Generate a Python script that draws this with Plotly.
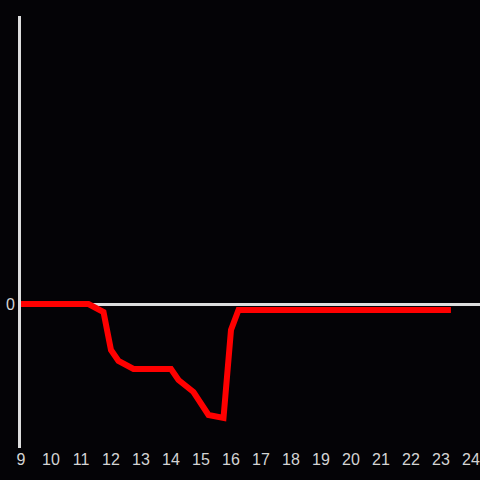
import plotly.graph_objects as go

hours = [9.0, 11.25, 11.75, 12.0, 12.25, 12.75, 14.0, 14.25, 14.75, 15.25, 15.75, 16.0, 16.25, 23.33]
values = [0, 0, -8, -46, -57, -65, -65, -76, -88, -111, -114, -26, -6, -6]
x_ticks = list(range(9, 25))
y_ticks = [0]

fig = go.Figure()
fig.add_trace(go.Scatter(x=hours, y=values, mode="lines",
                         line=dict(color="#ff0000", width=6), hoverinfo="skip"))
fig.update_layout(
    width=480, height=480,
    paper_bgcolor="#040306", plot_bgcolor="#040306",
    margin=dict(l=21, r=0, t=16, b=32),
    showlegend=False,
    font=dict(family="Liberation Sans, Arial, sans-serif", size=16, color="#d4d4d4"),
    xaxis=dict(range=[9, 24.3], tickvals=x_ticks, ticktext=[str(t) for t in x_ticks],
               showgrid=False, zeroline=False, showline=False, ticks="", ticklen=0),
    yaxis=dict(range=[-144, 288], tickvals=y_ticks, ticktext=["0"], showgrid=False,
               zeroline=True, zerolinecolor="#dddddd", zerolinewidth=3,
               showline=True, linecolor="#dddddd", linewidth=3, ticks="", ticklen=0),
)
fig.write_html("out.html", config={"displayModeBar": False},
               post_script="document.body.style.margin='0';document.body.style.background='#040306';")
